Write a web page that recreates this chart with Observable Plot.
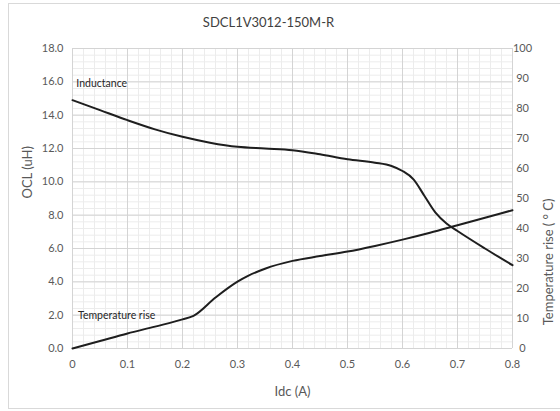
<!DOCTYPE html>
<html><head><meta charset="utf-8">
<script src="https://cdn.jsdelivr.net/npm/d3@7"></script>
<script src="https://cdn.jsdelivr.net/npm/@observablehq/plot@0.6"></script>
<style>
body{margin:0;background:#fff;}
#wrap{position:relative;width:560px;height:411px;overflow:hidden;}
#border{position:absolute;left:8px;top:3px;width:560px;height:406px;border:1px solid #d9d9d9;box-sizing:border-box;}
#chart{position:absolute;left:0;top:0;}
</style></head><body><div id="wrap"><div id="border"></div><div id="chart"></div></div>
<script>
const title = "SDCL1V3012-150M-R";
const xLabel = "Idc (A)";
const yLeftLabel = "OCL (uH)";
const yRightLabel = "Temperature rise ( ° C)";

const idcInductance = [0, 0.05, 0.1, 0.15, 0.2, 0.25, 0.3, 0.35, 0.4, 0.45, 0.5, 0.55, 0.58, 0.6, 0.62, 0.64, 0.66, 0.68, 0.7, 0.75, 0.8];
const oclValues     = [14.9, 14.3, 13.7, 13.15, 12.7, 12.35, 12.1, 12.0, 11.9, 11.65, 11.35, 11.15, 10.95, 10.65, 10.15, 9.15, 8.15, 7.5, 7.05, 6.0, 5.0];

const idcTemperature = [0, 0.05, 0.1, 0.15, 0.2, 0.22, 0.26, 0.3, 0.32, 0.35, 0.4, 0.45, 0.5, 0.55, 0.6, 0.65, 0.7, 0.75, 0.8];
const tempRiseValues = [0, 2.5, 5.0, 7.3, 9.7, 10.9, 17.0, 22.3, 24.3, 26.6, 29.2, 30.8, 32.3, 34.2, 36.3, 38.6, 41.1, 43.6, 46.1];

const xTicks = [0, 0.1, 0.2, 0.3, 0.4, 0.5, 0.6, 0.7, 0.8];
const xTickLabels = ["0", "0.1", "0.2", "0.3", "0.4", "0.5", "0.6", "0.7", "0.8"];
const yLeftTicks = [0, 2, 4, 6, 8, 10, 12, 14, 16, 18];
const yRightTicks = [0, 10, 20, 30, 40, 50, 60, 70, 80, 90, 100];

const annotationText = ["Inductance", "Temperature rise"];
const annotationX = [0.007, 0.01];
const annotationY = [15.9, 2.0];

const leftMax = 18, rightMax = 100;
const k = leftMax / rightMax;

const indData = idcInductance.map((x, i) => ({x, y: oclValues[i]}));
const tempData = idcTemperature.map((x, i) => ({x, y: tempRiseValues[i] * k}));
const annData = annotationText.map((t, i) => ({t, x: annotationX[i], y: annotationY[i]}));

const minorX = d3.range(0, 41).map(i => i * 0.02);
const minorY = d3.range(0, 46).map(i => i * 0.4);

const font = "Lato, 'Open Sans', sans-serif";

const plot = Plot.plot({
  width: 560, height: 411,
  marginLeft: 72, marginRight: 48, marginTop: 48, marginBottom: 63,
  style: {fontFamily: font, color: "#595959", background: "transparent"},
  x: {domain: [0, 0.8], axis: null},
  y: {domain: [0, leftMax], axis: null},
  marks: [
    Plot.ruleX(minorX, {stroke: "#ececec", strokeWidth: 1}),
    Plot.ruleY(minorY, {stroke: "#ececec", strokeWidth: 1}),
    Plot.ruleX(xTicks, {stroke: "#d4d4d4", strokeWidth: 1}),
    Plot.ruleY(yLeftTicks, {stroke: "#d4d4d4", strokeWidth: 1}),
    Plot.axisX(xTicks, {tickSize: 0, tickPadding: 12, fontSize: 11, tickFormat: (d) => xTickLabels[xTicks.indexOf(d)], label: null}),
    Plot.axisY(yLeftTicks, {anchor: "left", tickSize: 0, tickPadding: 9, fontSize: 11, tickFormat: d => d.toFixed(1), label: null}),
    Plot.axisY(yRightTicks.map(t => t * k), {anchor: "right", tickSize: 0, tickPadding: 10, textAnchor: "middle", fontSize: 11, tickFormat: d => String(Math.round(d / k)), label: null}),
    Plot.line(indData, {x: "x", y: "y", stroke: "#1e1e1e", strokeWidth: 2, curve: "monotone-x"}),
    Plot.line(tempData, {x: "x", y: "y", stroke: "#1e1e1e", strokeWidth: 2, curve: "monotone-x"}),
    Plot.text(annData, {x: "x", y: "y", text: "t", textAnchor: "start", fontSize: 10.5, fill: "#262626"}),
    Plot.text([title], {frameAnchor: "top", dx: -24, dy: -26, lineAnchor: "middle", fontSize: 13, fill: "#404040"}),
    Plot.text([xLabel], {frameAnchor: "bottom", dy: 43, lineAnchor: "middle", fontSize: 13, fill: "#595959"}),
    Plot.text([yLeftLabel], {frameAnchor: "left", dx: -45, rotate: -90, lineAnchor: "middle", fontSize: 13, fill: "#595959"}),
    Plot.text([yRightLabel], {frameAnchor: "right", dx: 36, rotate: -90, lineAnchor: "middle", fontSize: 13, fill: "#595959"})
  ]
});
document.getElementById("chart").appendChild(plot);
</script>
</body></html>
